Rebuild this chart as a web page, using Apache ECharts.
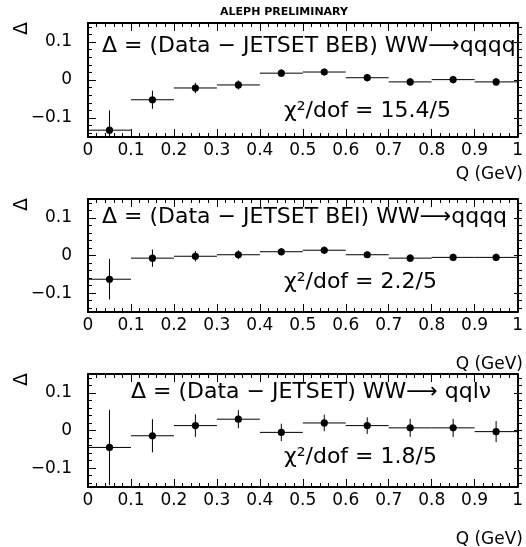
<!DOCTYPE html>
<html>
<head>
<meta charset="utf-8">
<script src="https://cdn.jsdelivr.net/npm/echarts@6/dist/echarts.min.js"></script>
<style>
html,body{margin:0;padding:0;background:#fff;}
#chart{width:526px;height:547px;}
</style>
</head>
<body>
<div id="chart"></div>
<script>
// ---- data ----
const binCenters = [0.05, 0.15, 0.25, 0.35, 0.45, 0.55, 0.65, 0.75, 0.85, 0.95];
const binLow     = [0.0, 0.1, 0.2, 0.3, 0.4, 0.5, 0.6, 0.7, 0.8, 0.9];
const binHigh    = [0.1, 0.2, 0.3, 0.4, 0.5, 0.6, 0.7, 0.8, 0.9, 1.0];

const bebValues  = [-0.132, -0.052, -0.021, -0.013, 0.018, 0.021, 0.006, -0.005, 0.001, -0.005];
const bebErrors  = [0.052, 0.024, 0.014, 0.012, 0.010, 0.009, 0.010, 0.010, 0.010, 0.010];

const beiValues  = [-0.063, -0.007, -0.002, 0.002, 0.010, 0.014, 0.002, -0.007, -0.005, -0.005];
const beiErrors  = [0.054, 0.023, 0.014, 0.012, 0.010, 0.010, 0.008, 0.010, 0.010, 0.010];

const qqlvValues = [-0.045, -0.014, 0.013, 0.030, -0.005, 0.020, 0.013, 0.007, 0.007, -0.003];
const qqlvErrors = [0.100, 0.044, 0.030, 0.024, 0.023, 0.022, 0.022, 0.024, 0.024, 0.028];

const xTickLabels = ['0','0.1','0.2','0.3','0.4','0.5','0.6','0.7','0.8','0.9','1'];
const yTickLabels = { '-1': '\u22120.1', '0': '0', '1': '0.1' };

const panelTitles = [
  '\u0394 = (Data \u2212 JETSET BEB) WW\u27F6qqqq',
  '\u0394 = (Data \u2212 JETSET BEI) WW\u27F6qqqq',
  '\u0394 = (Data \u2212 JETSET) WW\u27F6 qql\u03BD'
];
const chiTexts = ['\u03C7\u00B2/dof = 15.4/5', '\u03C7\u00B2/dof = 2.2/5', '\u03C7\u00B2/dof = 1.8/5'];
const xAxisName = 'Q (GeV)';
const headerText = 'ALEPH PRELIMINARY';
const yAxisName = '\u0394';

// ---- layout ----
const FONT = 'DejaVu Sans';
const LEFT = 88, WIDTH = 434;
const panels = [
  { top: 23,  height: 114, vals: bebValues,  errs: bebErrors,  titleX: 102, titleY: 46,  chiY: 111, qY: 175 },
  { top: 199, height: 113, vals: beiValues,  errs: beiErrors,  titleX: 102, titleY: 217, chiY: 282, qY: 365 },
  { top: 374, height: 113, vals: qqlvValues, errs: qqlvErrors, titleX: 131, titleY: 392, chiY: 457, qY: 540 }
];
const YMIN = -0.15, YMAX = 0.15;

const grids = [], xAxes = [], yAxes = [], series = [], graphics = [];

function yFmt(v) {
  const r = Math.round(v * 10);
  if (Math.abs(v * 10 - r) > 1e-6) return '';
  return yTickLabels[String(r)] || '';
}
function xFmt(v) {
  const i = Math.round(v * 10);
  if (Math.abs(v * 10 - i) > 1e-6) return '';
  return xTickLabels[i];
}

function renderErr(params, api) {
  const x = api.value(0), y = api.value(1), e = api.value(2), lo = api.value(3), hi = api.value(4);
  const c = api.coord([x, y]);
  const a = api.coord([lo, y]);
  const b = api.coord([hi, y]);
  const t = api.coord([x, y + e]);
  const d = api.coord([x, y - e]);
  const cs = params.coordSys;
  return {
    type: 'group',
    clipPath: { type: 'rect', shape: { x: cs.x, y: cs.y, width: cs.width, height: cs.height } },
    children: [
      { type: 'line', shape: { x1: a[0], y1: a[1], x2: b[0], y2: b[1] }, style: { stroke: '#000', lineWidth: 1 } },
      { type: 'line', shape: { x1: t[0], y1: t[1], x2: d[0], y2: d[1] }, style: { stroke: '#000', lineWidth: 1 } },
      { type: 'circle', shape: { cx: c[0], cy: c[1], r: 3.6 }, style: { fill: '#000' } }
    ]
  };
}

panels.forEach((p, pi) => {
  const k = p.height / (YMAX - YMIN);
  const gA = grids.length;
  grids.push({ left: LEFT, width: WIDTH, top: p.top, height: p.height, containLabel: false });
  grids.push({ left: LEFT, width: WIDTH, top: p.top + (YMAX - 0.14) * k, height: 0.28 * k });
  grids.push({ left: LEFT, width: WIDTH, top: p.top + (YMAX - 0.10) * k, height: 0.20 * k });
  grids.push({ left: 22, width: 1, top: p.top, height: p.height });

  const axisLine = { show: true, onZero: false, lineStyle: { color: '#000', width: 2 } };
  const xBase = {
    type: 'value', gridIndex: gA, min: 0, max: 1, interval: 0.1,
    axisLine: axisLine,
    axisTick: { show: true, inside: true, length: 8, lineStyle: { color: '#000', width: 1 } },
    minorTick: { show: true, splitNumber: 5, length: 4, lineStyle: { color: '#000', width: 1 } },
    splitLine: { show: false }, minorSplitLine: { show: false }
  };
  const xIdx = xAxes.length;
  xAxes.push(Object.assign({}, xBase, {
    position: 'bottom',
    axisLabel: { show: true, formatter: xFmt, fontFamily: FONT, fontSize: 17, color: '#000', margin: 5 }
  }));
  xAxes.push(Object.assign({}, xBase, { position: 'top', axisLabel: { show: false } }));
  xAxes.push({ type: 'value', gridIndex: gA + 1, min: 0, max: 1, show: false });
  xAxes.push({ type: 'value', gridIndex: gA + 2, min: 0, max: 1, show: false });
  xAxes.push({ type: 'value', gridIndex: gA + 3, min: 0, max: 1, show: false });

  const yIdx = yAxes.length;
  const yMain = {
    type: 'value', gridIndex: gA, min: YMIN, max: YMAX, interval: 0.05,
    axisLine: axisLine, axisTick: { show: false },
    splitLine: { show: false }
  };
  yAxes.push(Object.assign({}, yMain, {
    position: 'left',
    axisLabel: { show: true, formatter: yFmt, fontFamily: FONT, fontSize: 17, color: '#000', margin: 16,
                 showMinLabel: false, showMaxLabel: false }
  }));
  yAxes.push(Object.assign({}, yMain, { position: 'right', axisLabel: { show: false } }));
  ['left', 'right'].forEach(pos => {
    yAxes.push({
      type: 'value', gridIndex: gA + 1, position: pos, min: -0.14, max: 0.14, interval: 0.02,
      axisLine: { show: false }, axisLabel: { show: false }, splitLine: { show: false },
      axisTick: { show: true, inside: true, length: 4, lineStyle: { color: '#000', width: 1 } }
    });
  });
  ['left', 'right'].forEach(pos => {
    yAxes.push({
      type: 'value', gridIndex: gA + 2, position: pos, min: -0.1, max: 0.1, interval: 0.1,
      axisLine: { show: false }, axisLabel: { show: false }, splitLine: { show: false },
      axisTick: { show: true, inside: true, length: 8, lineStyle: { color: '#000', width: 1 } }
    });
  });
  // axis carrying only the rotated Δ name, at the far left
  yAxes.push({
    type: 'value', gridIndex: gA + 3, min: YMIN, max: YMAX, position: 'left',
    axisLine: { show: false }, axisTick: { show: false }, axisLabel: { show: false }, splitLine: { show: false },
    name: yAxisName, nameLocation: 'end', nameRotate: 90, nameGap: -12,
    nameTextStyle: { fontFamily: FONT, fontSize: 19, color: '#000' }
  });

  const data = binCenters.map((x, i) => [x, p.vals[i], p.errs[i], binLow[i], binHigh[i]]);
  series.push({
    type: 'custom', xAxisIndex: xIdx, yAxisIndex: yIdx, renderItem: renderErr,
    data: data, encode: { x: 0, y: 1 }, silent: true, animation: false
  });

  graphics.push({ type: 'text', x: p.titleX, y: p.titleY,
    style: { text: panelTitles[pi], font: '22px "' + FONT + '"', fill: '#000', textAlign: 'left', textVerticalAlign: 'middle' } });
  graphics.push({ type: 'text', x: 284, y: p.chiY,
    style: { text: chiTexts[pi], font: '22px "' + FONT + '"', fill: '#000', textAlign: 'left', textVerticalAlign: 'middle' } });
  graphics.push({ type: 'text', x: 523, y: p.qY,
    style: { text: xAxisName, font: '17px "' + FONT + '"', fill: '#000', textAlign: 'right', textVerticalAlign: 'middle' } });
});

graphics.push({ type: 'text', x: 284, y: 12,
  style: { text: headerText, font: 'bold 11px "' + FONT + '"', fill: '#000', textAlign: 'center', textVerticalAlign: 'middle' } });

const chart = echarts.init(document.getElementById('chart'), null, { renderer: 'canvas' });
chart.setOption({
  animation: false,
  backgroundColor: '#fff',
  grid: grids,
  xAxis: xAxes,
  yAxis: yAxes,
  series: series,
  graphic: graphics
});
</script>
</body>
</html>
